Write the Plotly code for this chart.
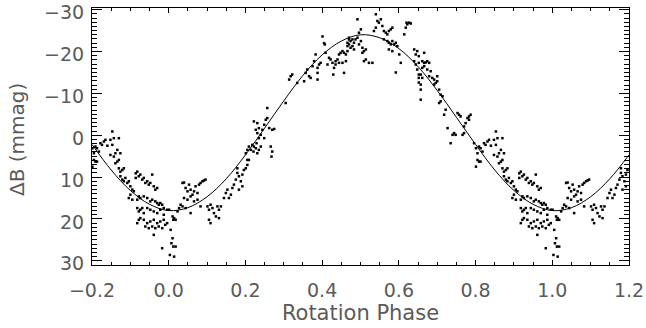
import plotly.graph_objects as go

phase = [
    0.010, 0.012, 0.014, 0.018, 0.005, 0.010, 0.007, 0.012, 0.018, 0.014, 0.003, 0.001, 0.023, 0.027,
    0.036, 0.040, 0.044, 0.049, 0.053, 0.057, 0.062, 0.066, 0.070, 0.075, 0.079, 0.083, 0.088, 0.092, 0.096,
    0.040, 0.049, 0.057, 0.066, 0.075, 0.036, 0.044, 0.057, 0.083, 0.031,
    0.101, 0.105, 0.109, 0.114, 0.118, 0.105, 0.109, 0.123, 0.127, 0.131, 0.136, 0.131,
    0.144, 0.149, 0.153, 0.162, 0.166, 0.170, 0.175, 0.179, 0.183, 0.188, 0.192, 0.196, 0.192, 0.183,
    0.201, 0.205, 0.209, 0.201, 0.205, 0.209, 0.205, 0.179, 0.157,
    0.218, 0.222, 0.214, 0.221, 0.227, 0.231, 0.235, 0.240, 0.229, 0.235, 0.240, 0.231, 0.227, 0.244,
    0.249, 0.253, 0.257, 0.222, 0.231, 0.235, 0.262, 0.270, 0.275, 0.266, 0.270, 0.268, 0.257, 0.249,
    0.305, 0.314, 0.318, 0.322, 0.335, 0.353, 0.357, 0.361, 0.366, 0.370, 0.375, 0.379, 0.383, 0.388,
    0.392, 0.396, 0.388, 0.388, 0.401, 0.405, 0.407, 0.409, 0.418, 0.422, 0.414, 0.427, 0.429, 0.431,
    0.435, 0.440, 0.444, 0.448, 0.453, 0.457, 0.462, 0.466, 0.462, 0.453, 0.444, 0.435, 0.457, 0.466,
    0.470, 0.466,
    0.470, 0.474, 0.479, 0.483, 0.487, 0.492, 0.474, 0.479, 0.483, 0.470, 0.492, 0.496, 0.501, 0.505,
    0.509, 0.514, 0.505, 0.509, 0.514, 0.522, 0.531, 0.501, 0.496,
    0.540, 0.544, 0.548, 0.553, 0.557, 0.535, 0.540, 0.561, 0.566, 0.570, 0.574, 0.579, 0.583, 0.561,
    0.570, 0.574, 0.579, 0.583, 0.588, 0.592, 0.596, 0.574, 0.583, 0.601, 0.592, 0.605, 0.614, 0.618,
    0.622, 0.627, 0.631, 0.620,
    0.640, 0.644, 0.648, 0.652, 0.640, 0.644, 0.652, 0.648, 0.652, 0.652, 0.652,
    0.666, 0.661, 0.666, 0.670, 0.674, 0.679, 0.661, 0.666, 0.657, 0.661, 0.657, 0.657, 0.657, 0.674,
    0.683, 0.679, 0.687, 0.692, 0.696, 0.700, 0.692, 0.700, 0.705, 0.709, 0.714, 0.709, 0.705, 0.722,
    0.718, 0.727, 0.735, 0.740, 0.744, 0.748, 0.753, 0.757, 0.761, 0.766, 0.770, 0.774, 0.779, 0.783,
    0.787, 0.783, 0.770, 0.796, 0.801, 0.805, 0.809, 0.805, 0.809, 0.801,
    0.813, 0.818, 0.813, 0.822, 0.826, 0.831, 0.835, 0.840, 0.848, 0.853, 0.857, 0.853, 0.866, 0.870,
    0.861, 0.848, 0.857, 0.861, 0.866, 0.870, 0.874, 0.870, 0.874, 0.879, 0.883, 0.874, 0.879, 0.883,
    0.887, 0.892, 0.896, 0.900, 0.905, 0.896, 0.900, 0.909, 0.914, 0.918, 0.914, 0.922, 0.926, 0.931,
    0.935, 0.939, 0.944, 0.948, 0.952, 0.957, 0.961, 0.965, 0.970,
    0.905, 0.918, 0.922, 0.926, 0.935, 0.944, 0.952, 0.957, 0.965, 0.970, 0.974, 0.978, 0.983, 0.987,
    0.996, 0.918, 0.922, 0.926, 0.931, 0.935, 0.944, 0.952, 0.961, 0.970, 0.978, 0.987,
    0.926, 0.935, 0.944, 0.952, 0.961, 0.970, 0.978, 0.987, 0.991, 0.996, 0.957, 0.965, 0.974, 0.948,
    0.939, 0.983, 0.961, 0.918, 0.922, 0.983,
]
delta_b = [
    19.4, 20.2, 19.8, 20.2, 22.6, 24.6, 25.8, 26.6, 26.6, 29.0, 28.6, 17.8, 18.2, 17.4,
    11.4, 11.3, 12.6, 13.4, 11.8, 13.0, 14.2, 13.4, 12.2, 13.8, 11.8, 11.4, 11.0, 10.8, 10.6,
    15.0, 15.4, 14.6, 15.8, 15.4, 17.0, 17.4, 18.6, 17.0, 16.6,
    17.0, 17.8, 16.6, 17.4, 18.6, 20.2, 21.0, 19.4, 17.0, 17.8, 17.0, 19.8,
    15.0, 13.8, 13.0, 14.2, 12.6, 11.8, 10.6, 9.0, 9.8, 11.0, 9.4, 8.3, 12.2, 13.0,
    7.9, 7.1, 5.9, 4.3, 3.5, 2.7, 5.9, 7.9, 15.0,
    2.3, 2.7, 3.5, 3.9, 3.1, 4.3, 3.5, 2.7, 1.9, 0.7, -0.1, -0.5, -1.3, -1.3,
    -2.5, -3.7, -4.1, -3.3, -2.9, -1.7, -1.7, -1.3, -1.5, 2.7, 3.9, 5.1, -6.5, 0.7,
    -7.7, -13.3, -14.1, -14.5, -12.5, -12.9, -14.9, -15.7, -14.1, -13.7, -16.5, -17.7, -19.3, -16.1,
    -16.9, -17.3, -14.9, -13.3, -23.6, -22.0, -21.7, -19.7, -18.5, -18.1, -16.9, -17.3, -14.5, -16.1,
    -17.7, -18.1, -19.3, -19.7, -20.1, -19.7, -19.3, -20.1, -17.7, -17.3, -17.3, -16.9, -14.9, -22.1,
    -22.9, -21.3,
    -21.7, -22.5, -22.9, -22.1, -22.9, -23.3, -20.9, -21.3, -20.5, -23.3, -27.7, -24.5, -25.3, -20.9,
    -20.1, -20.5, -19.7, -17.7, -18.1, -17.3, -17.3, -22.5, -21.7,
    -28.9, -27.3, -26.9, -27.7, -26.1, -24.9, -25.7, -24.9, -24.5, -24.1, -24.9, -25.3, -25.7, -22.9,
    -22.5, -22.1, -21.7, -22.5, -21.7, -22.1, -21.3, -20.5, -20.1, -19.3, -15.0, -17.3, -24.1, -25.7,
    -26.5, -26.9, -26.7, -26.9,
    -20.5, -19.3, -20.1, -18.9, -17.7, -16.9, -17.3, -15.7, -14.5, -13.7, -12.6,
    -19.7, -17.7, -17.3, -17.4, -17.7, -17.3, -16.1, -16.5, -14.5, -13.7, -12.1, -10.9, -8.5, -15.7,
    -15.3, -14.1, -13.7, -13.3, -12.5, -12.9, -12.1, -14.1, -10.9, -9.7, -9.3, -8.1, -7.7, -6.1,
    -4.9, -1.7, 1.9, -0.1, -0.5, -0.1, -5.3, -4.9, -4.5, -0.1, -0.5, -2.9, -4.1, -3.7,
    -4.9, -4.5, -2.1, 1.9, 3.1, 4.3, 2.7, 5.9, 6.3, 7.5,
    3.1, 3.9, 6.3, 1.9, 2.3, 1.5, 1.1, 2.5, 1.1, -0.9, 0.7, 2.3, 3.5, 0.7,
    4.3, 4.7, 5.1, 6.7, 6.3, 5.9, 4.3, 7.9, 8.7, 8.3, 7.9, 9.8, 10.6, 11.0,
    10.2, 11.4, 11.0, 12.2, 13.0, 15.0, 14.2, 13.4, 9.1, 8.7, 10.2, 9.8, 9.4, 10.6,
    10.2, 11.4, 11.0, 11.8, 11.4, 9.4, 12.2, 13.0, 12.6,
    15.4, 15.4, 14.6, 15.0, 14.6, 15.0, 15.8, 15.4, 15.8, 16.2, 16.6, 16.2, 16.6, 17.4,
    17.8, 17.4, 18.2, 17.8, 17.4, 18.6, 17.4, 17.8, 18.2, 18.6, 17.8, 19.0,
    19.8, 20.2, 21.0, 20.6, 20.2, 21.0, 20.6, 20.2, 21.4, 21.0, 21.8, 22.2, 21.8, 22.2,
    21.8, 22.2, 23.8, 21.0, 20.2, 27.0,
]

# Fitted curve, sampled every 0.05 in phase
fit_phase = [-0.20, -0.15, -0.10, -0.05, 0.00, 0.05, 0.10, 0.15, 0.20, 0.25, 0.30, 0.35, 0.40, 0.45,
             0.50, 0.55, 0.60, 0.65, 0.70, 0.75, 0.80, 0.85, 0.90, 0.95, 1.00, 1.05, 1.10, 1.15, 1.20]
fit_delta_b = [2.2, 8.3, 13.2, 16.5, 18.0, 17.3, 14.7, 10.4, 4.7, -1.7, -8.2, -14.3, -19.2, -22.5,
               -24.0, -23.3, -20.7, -16.4, -10.7, -4.3, 2.2, 8.3, 13.2, 16.5, 18.0, 17.3, 14.7, 10.4, 4.7]

x_ticks = [-0.2, 0.0, 0.2, 0.4, 0.6, 0.8, 1.0, 1.2]
y_ticks = [-30, -20, -10, 0, 10, 20, 30]
x_title = "Rotation Phase"
y_title = "ΔB (mmag)"

# Phase-fold display: repeat the ends of the cycle on either side
xs, ys = [], []
for p, v in zip(phase, delta_b):
    xs.append(p); ys.append(v)
    if p >= 0.8:
        xs.append(p - 1); ys.append(v)
    if p <= 0.2:
        xs.append(p + 1); ys.append(v)

fig = go.Figure()
fig.add_trace(go.Scatter(x=xs, y=ys, mode="markers",
                         marker=dict(color="black", size=2.5, symbol="square", line=dict(width=0)),
                         hoverinfo="skip", showlegend=False))
fig.add_trace(go.Scatter(x=fit_phase, y=fit_delta_b, mode="lines", line_shape="spline",
                         line=dict(color="black", width=1), showlegend=False))

txt = "#5a5a5a"
fig.update_layout(
    width=646, height=328,
    margin=dict(l=92, r=17, t=8, b=63),
    paper_bgcolor="white", plot_bgcolor="white",
    font=dict(family="DejaVu Sans", size=19, color=txt),
    xaxis=dict(range=[-0.2, 1.2], tickvals=x_ticks, tickformat=".1f", automargin=False,
               ticklabeloverflow="allow", ticklabelstandoff=8,
               showgrid=False, zeroline=False, showline=True, linecolor="black", linewidth=1,
               mirror="ticks", ticks="inside", ticklen=5, tickcolor="black", tickwidth=1,
               minor=dict(dtick=0.05, tick0=0, ticks="inside", ticklen=3, tickcolor="black", showgrid=False),
               tickfont=dict(size=19, color=txt),
               title=dict(text=x_title, font=dict(size=21, color=txt), standoff=5)),
    yaxis=dict(range=[31, -30.4], tickvals=y_ticks, automargin=False,
               ticklabeloverflow="allow", ticklabelstandoff=3, ticklabelshift=-3,
               showgrid=False, zeroline=False, showline=True, linecolor="black", linewidth=1,
               mirror="ticks", ticks="inside", ticklen=10, tickcolor="black", tickwidth=1,
               minor=dict(dtick=1, tick0=0, ticks="inside", ticklen=5, tickcolor="black", showgrid=False),
               tickfont=dict(size=19, color=txt)),
    annotations=[dict(text=y_title, xref="paper", yref="paper", x=-0.1397, y=0.49,
                      xanchor="center", yanchor="middle", textangle=-90, showarrow=False,
                      font=dict(size=20, color=txt))],
)

fig.write_html("out.html", config={"displayModeBar": False},
               post_script="document.body.style.margin='0px';")
